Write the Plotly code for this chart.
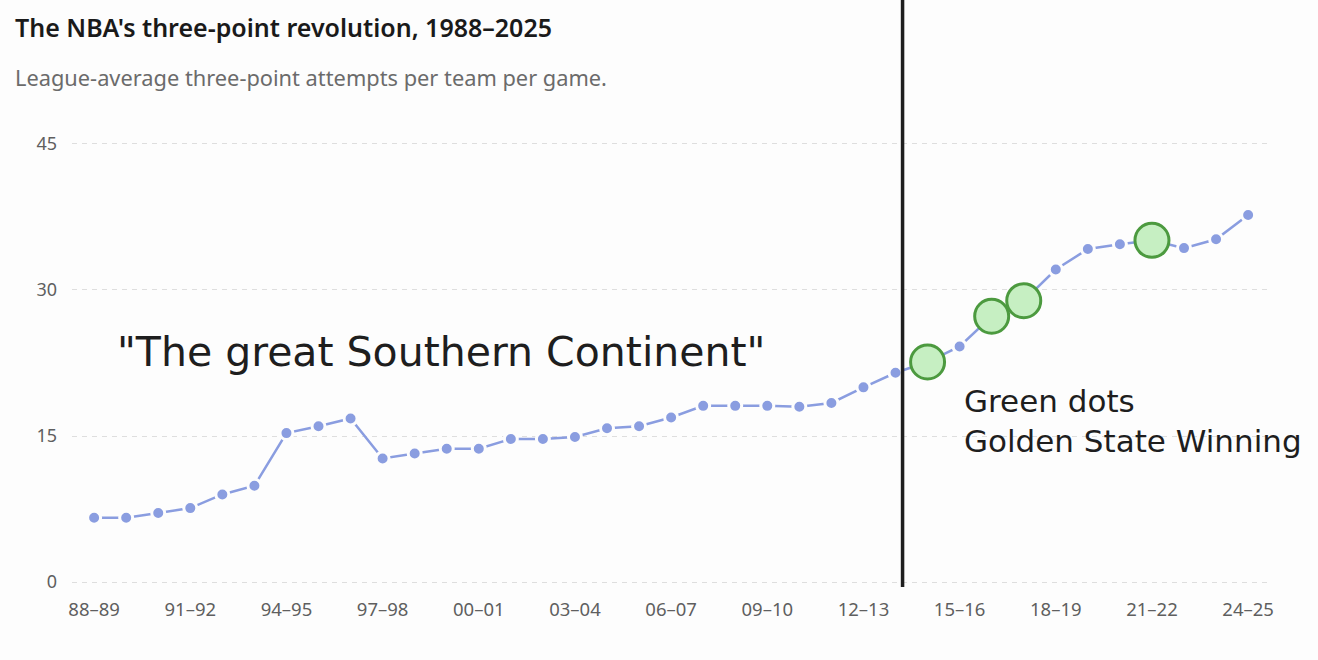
import plotly.graph_objects as go

# Seasons and league-average 3PA per team per game
seasons = [
    "88–89", "89–90", "90–91", "91–92", "92–93", "93–94", "94–95", "95–96",
    "96–97", "97–98", "98–99", "99–00", "00–01", "01–02", "02–03", "03–04",
    "04–05", "05–06", "06–07", "07–08", "08–09", "09–10", "10–11", "11–12",
    "12–13", "13–14", "14–15", "15–16", "16–17", "17–18", "18–19", "19–20",
    "20–21", "21–22", "22–23", "23–24", "24–25",
]
attempts = [
    6.6, 6.6, 7.1, 7.6, 9.0, 9.9, 15.3, 16.0,
    16.8, 12.7, 13.2, 13.7, 13.7, 14.7, 14.7, 14.9,
    15.8, 16.0, 16.9, 18.1, 18.1, 18.1, 18.0, 18.4,
    20.0, 21.5, 22.6, 24.2, 27.3, 28.9, 32.1, 34.2,
    34.7, 35.1, 34.3, 35.2, 37.7,
]

# Golden State title seasons (green dots)
gsw_seasons = ["14–15", "16–17", "17–18", "21–22"]
gsw_attempts = [attempts[seasons.index(s)] for s in gsw_seasons]

tick_labels = seasons[::3]
y_ticks = [0, 15, 30, 45]

# Vertical marker placed just after the 13–14 season
divider_x = 25.22

idx = list(range(len(seasons)))
gsw_idx = [seasons.index(s) for s in gsw_seasons]

BG = "#fdfdfd"

fig = go.Figure()

fig.add_trace(go.Scatter(
    x=idx, y=attempts,
    mode="lines+markers",
    line=dict(color="#8a9de0", width=2.5),
    marker=dict(size=13, color="#8a9de0", line=dict(color=BG, width=3)),
    hoverinfo="skip",
))

fig.add_trace(go.Scatter(
    x=gsw_idx, y=gsw_attempts,
    mode="markers",
    marker=dict(size=34, color="#c6efc2", line=dict(color="#4c9a3f", width=3)),
    hoverinfo="skip",
))

# Black vertical line running from the baseline to the top of the figure
fig.add_shape(
    type="line", xref="x", yref="paper",
    x0=divider_x, x1=divider_x, y0=-0.002, y1=1.33,
    line=dict(color="#1e1e1e", width=3.5),
)

fig.update_layout(
    width=1318, height=660,
    paper_bgcolor=BG, plot_bgcolor=BG,
    margin=dict(l=72, r=50, t=140, b=74),
    showlegend=False,
    font=dict(family="Noto Sans", color="#666666"),
    xaxis=dict(
        range=[-0.69, 36.62],
        tickmode="array",
        tickvals=idx[::3],
        ticktext=tick_labels,
        showgrid=False, zeroline=False, showline=False,
        ticks="", ticklabelstandoff=10,
        tickfont=dict(size=18.5, color="#5f5f5f"),
    ),
    yaxis=dict(
        range=[-0.4, 45.4],
        tickvals=y_ticks,
        showgrid=True, gridcolor="#dedede", griddash="5px,5px", gridwidth=1,
        zeroline=False, showline=False,
        ticks="", ticklabelstandoff=14,
        tickfont=dict(size=18, color="#5f5f5f"),
    ),
    annotations=[
        dict(text="The NBA's three-point revolution, 1988–2025",
             xref="paper", yref="paper", x=-0.049, y=1.253,
             xanchor="left", yanchor="middle", showarrow=False,
             font=dict(size=25, color="#1a1a1a", family="Noto Sans", weight=600)),
        dict(text="League-average three-point attempts per team per game.",
             xref="paper", yref="paper", x=-0.049, y=1.141,
             xanchor="left", yanchor="middle", showarrow=False,
             font=dict(size=21.8, color="#6b6b6b")),
        dict(text="\"The great Southern Continent\"",
             xref="paper", yref="paper", x=0.036, y=0.525,
             xanchor="left", yanchor="middle", showarrow=False,
             font=dict(size=41, color="#1e1e1e", family="DejaVu Sans")),
        dict(text="Green dots<br>Golden State Winning",
             xref="paper", yref="paper", x=0.744, y=0.37,
             xanchor="left", yanchor="middle", align="left", showarrow=False,
             font=dict(size=31, color="#1e1e1e", family="DejaVu Sans")),
    ],
)

# drop the browser's default body margin so the figure sits at the window corner
fig.write_html("out.html", config={"displayModeBar": False},
               post_script="document.body.style.margin='0';")
